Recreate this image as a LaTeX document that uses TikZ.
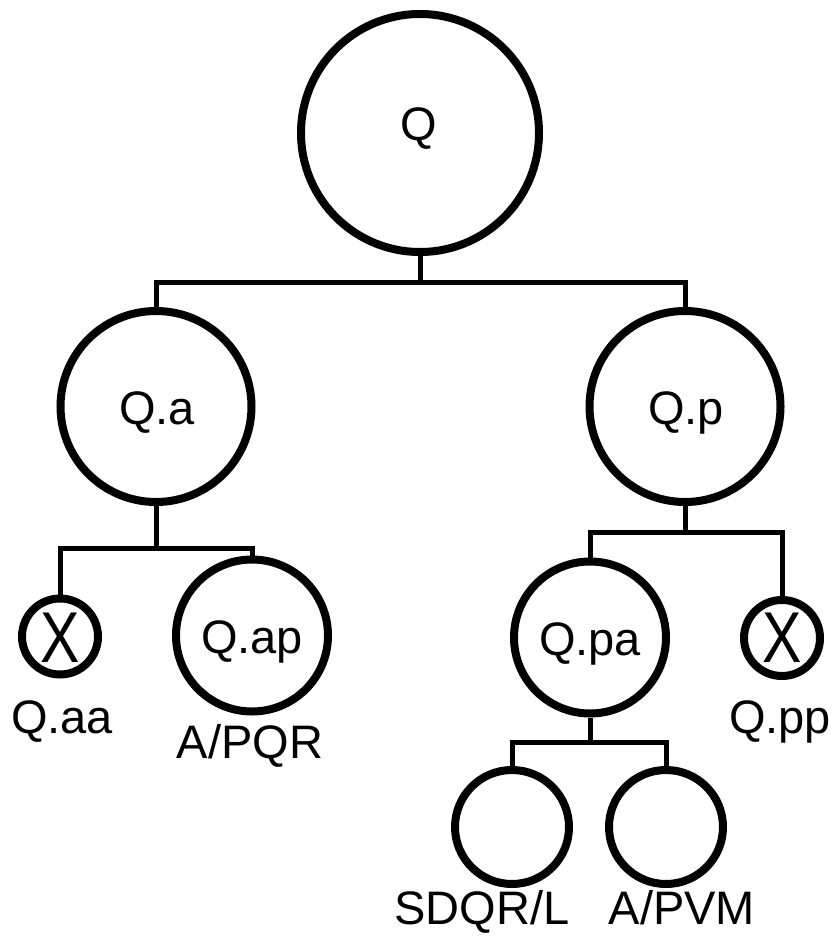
\documentclass[tikz,border=0pt]{standalone}
\usepackage{fontspec}
\setmainfont{Liberation Sans}
\begin{document}
\begin{tikzpicture}[x=1pt,y=-1pt,
  circ/.style={circle,draw,line width=8pt,minimum size=#1,inner sep=0pt},
  conn/.style={line width=5pt},
  txt/.style={anchor=base,inner sep=0pt,font=\fontsize{47}{56}\selectfont},
  xmark/.style={inner sep=0pt,font=\fontsize{72}{80}\selectfont,xscale=0.82}]
\useasboundingbox (0,0) rectangle (837,936);
% circles
\node[circ=238] (Q)    at (420,133)   {};
\node[circ=191] (Qa)   at (156,406.5) {};
\node[circ=191] (Qp)   at (685,406.5) {};
\node[circ=76]  (Qaa)  at (60,636.5)  {};
\node[circ=152] (Qap)  at (252,635.5) {};
\node[circ=152] (Qpa)  at (590,637.5) {};
\node[circ=76]  (Qpp)  at (782,638)   {};
\node[circ=114] (Qpaa) at (512,827)   {};
\node[circ=114] (Qpap) at (666,827)   {};
% texts inside
\node[txt] (tQ)   at (419,141) {Q};
\node[txt] (tQa)  at (157,424) {Q.a};
\node[txt] (tQp)  at (686,424) {Q.p};
\node[txt] (tQap) at (252,653) {Q.ap};
\node[txt] (tQpa) at (590,655) {Q.pa};
\node[xmark] (xaa) at (60,638) {X};
\node[xmark] (xpp) at (782,638) {X};
% labels below
\node[txt] (lQaa)  at (62,733)  {Q.aa};
\node[txt] (lQap)  at (250,758) {A/PQR};
\node[txt] (lQpp)  at (780,733) {Q.pp};
\node[txt] (lQpaa) at (482,924) {SDQR/L};
\node[txt] (lQpap) at (682,924) {A/PVM};
% connectors
\coordinate (j1) at (420,282);
\draw[conn] (Q.south) -- (j1);
\draw[conn] (Qa.north) |- (j1) -| (Qp.north);
\coordinate (j2) at (156,548);
\draw[conn] (Qa.south) -- (j2);
\draw[conn] (Qaa.north) |- (j2) -| (Qap.north);
\coordinate (j3) at (685,532);
\draw[conn] (Qp.south) -- (j3);
\draw[conn] (Qpa.north) |- (j3) -| (Qpp.north);
\coordinate (j4) at (590,742);
\draw[conn] (Qpa.south) -- (j4);
\draw[conn] (Qpaa.north) |- (j4) -| (Qpap.north);
\end{tikzpicture}
\end{document}
